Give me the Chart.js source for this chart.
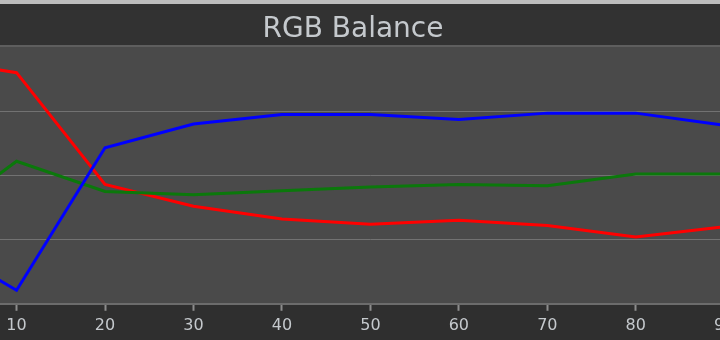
<!DOCTYPE html>
<html>
<head>
<meta charset="utf-8">
<script src="https://cdn.jsdelivr.net/npm/chart.js@4"></script>
<style>
    html, body { margin: 0; padding: 0; width: 720px; height: 340px; overflow: hidden; background: #2f2f2f; }
    #chart-wrap { position: absolute; left: -82px; top: 0; width: 915px; height: 340px; }
    #chart-title {
        position: absolute; left: 0; top: 14px; width: 706px; text-align: center;
        font-family: "DejaVu Sans", sans-serif; font-size: 28px; line-height: 28px;
        color: #c5c9cd; pointer-events: none;
    }
</style>
</head>
<body>
<div id="chart-wrap"><canvas id="rgb-chart"></canvas></div>
<div id="chart-title">RGB Balance</div>
<script>
// stimulus level (%) and channel balance (%)
const levels = [0, 10, 20, 30, 40, 50, 60, 70, 80, 90];
const redValues = [109.1, 108.0, 99.3, 97.6, 96.6, 96.2, 96.5, 96.1, 95.2, 96.0];
const greenValues = [96.0, 101.1, 98.75, 98.5, 98.8, 99.1, 99.3, 99.2, 100.1, 100.1];
const blueValues = [95.1, 91.05, 102.15, 104.0, 104.75, 104.75, 104.35, 104.85, 104.85, 103.9];
const xTicks = [0, 10, 20, 30, 40, 50, 60, 70, 80, 90, 100];
const yGridValues = [90, 95, 100, 105, 110];

const toPoints = (values) => values.map((v, i) => ({ x: levels[i], y: v }));

// paints the header band, the plot background and the thin separator
const backgroundPlugin = {
    id: 'panelBackground',
    beforeDraw(chart) {
        const { ctx, chartArea, width } = chart;
        ctx.save();
        ctx.fillStyle = '#323232';
        ctx.fillRect(0, 0, width, chartArea.top);
        ctx.fillStyle = '#bdbdbd';
        ctx.fillRect(0, 0, width, 4);
        ctx.fillStyle = '#4a4a4a';
        ctx.fillRect(0, chartArea.top, width, chartArea.bottom - chartArea.top);
        ctx.fillStyle = '#5e5e5e';
        ctx.fillRect(0, chartArea.top - 2, width, 2);
        ctx.restore();
    }
};

new Chart(document.getElementById('rgb-chart'), {
    type: 'line',
    data: {
        datasets: [
            { label: 'Blue', data: toPoints(blueValues), borderColor: '#0000ff' },
            { label: 'Green', data: toPoints(greenValues), borderColor: '#0b780b' },
            { label: 'Red', data: toPoints(redValues), borderColor: '#ff0000' }
        ]
    },
    options: {
        responsive: true,
        maintainAspectRatio: false,
        animation: false,
        events: [],
        layout: { padding: { left: 10, right: 20, top: 47, bottom: 0 } },
        elements: {
            line: { borderWidth: 3, tension: 0 },
            point: { radius: 0 }
        },
        plugins: {
            legend: { display: false },
            title: { display: false },
            tooltip: { enabled: false }
        },
        scales: {
            x: {
                type: 'linear',
                min: 0,
                max: 100,
                afterBuildTicks: (axis) => { axis.ticks = xTicks.map(v => ({ value: v })); },
                grid: { drawOnChartArea: false, drawTicks: true, tickLength: 7, tickWidth: 2, tickColor: '#8c8c8c' },
                border: { display: true, color: '#6c6c6c', width: 2 },
                ticks: {
                    padding: 5,
                    maxRotation: 0,
                    autoSkip: false,
                    color: '#c5c9cd',
                    font: { family: 'DejaVu Sans', size: 16 }
                }
            },
            y: {
                min: 90,
                max: 110,
                afterBuildTicks: (axis) => { axis.ticks = yGridValues.map(v => ({ value: v })); },
                grid: {
                    drawTicks: false,
                    lineWidth: 1,
                    color: (c) => (c.tick && (c.tick.value === 110 || c.tick.value === 90)) ? 'rgba(0,0,0,0)' : '#727272'
                },
                border: { display: false },
                ticks: { display: false }
            }
        }
    },
    plugins: [backgroundPlugin]
});
</script>
</body>
</html>
